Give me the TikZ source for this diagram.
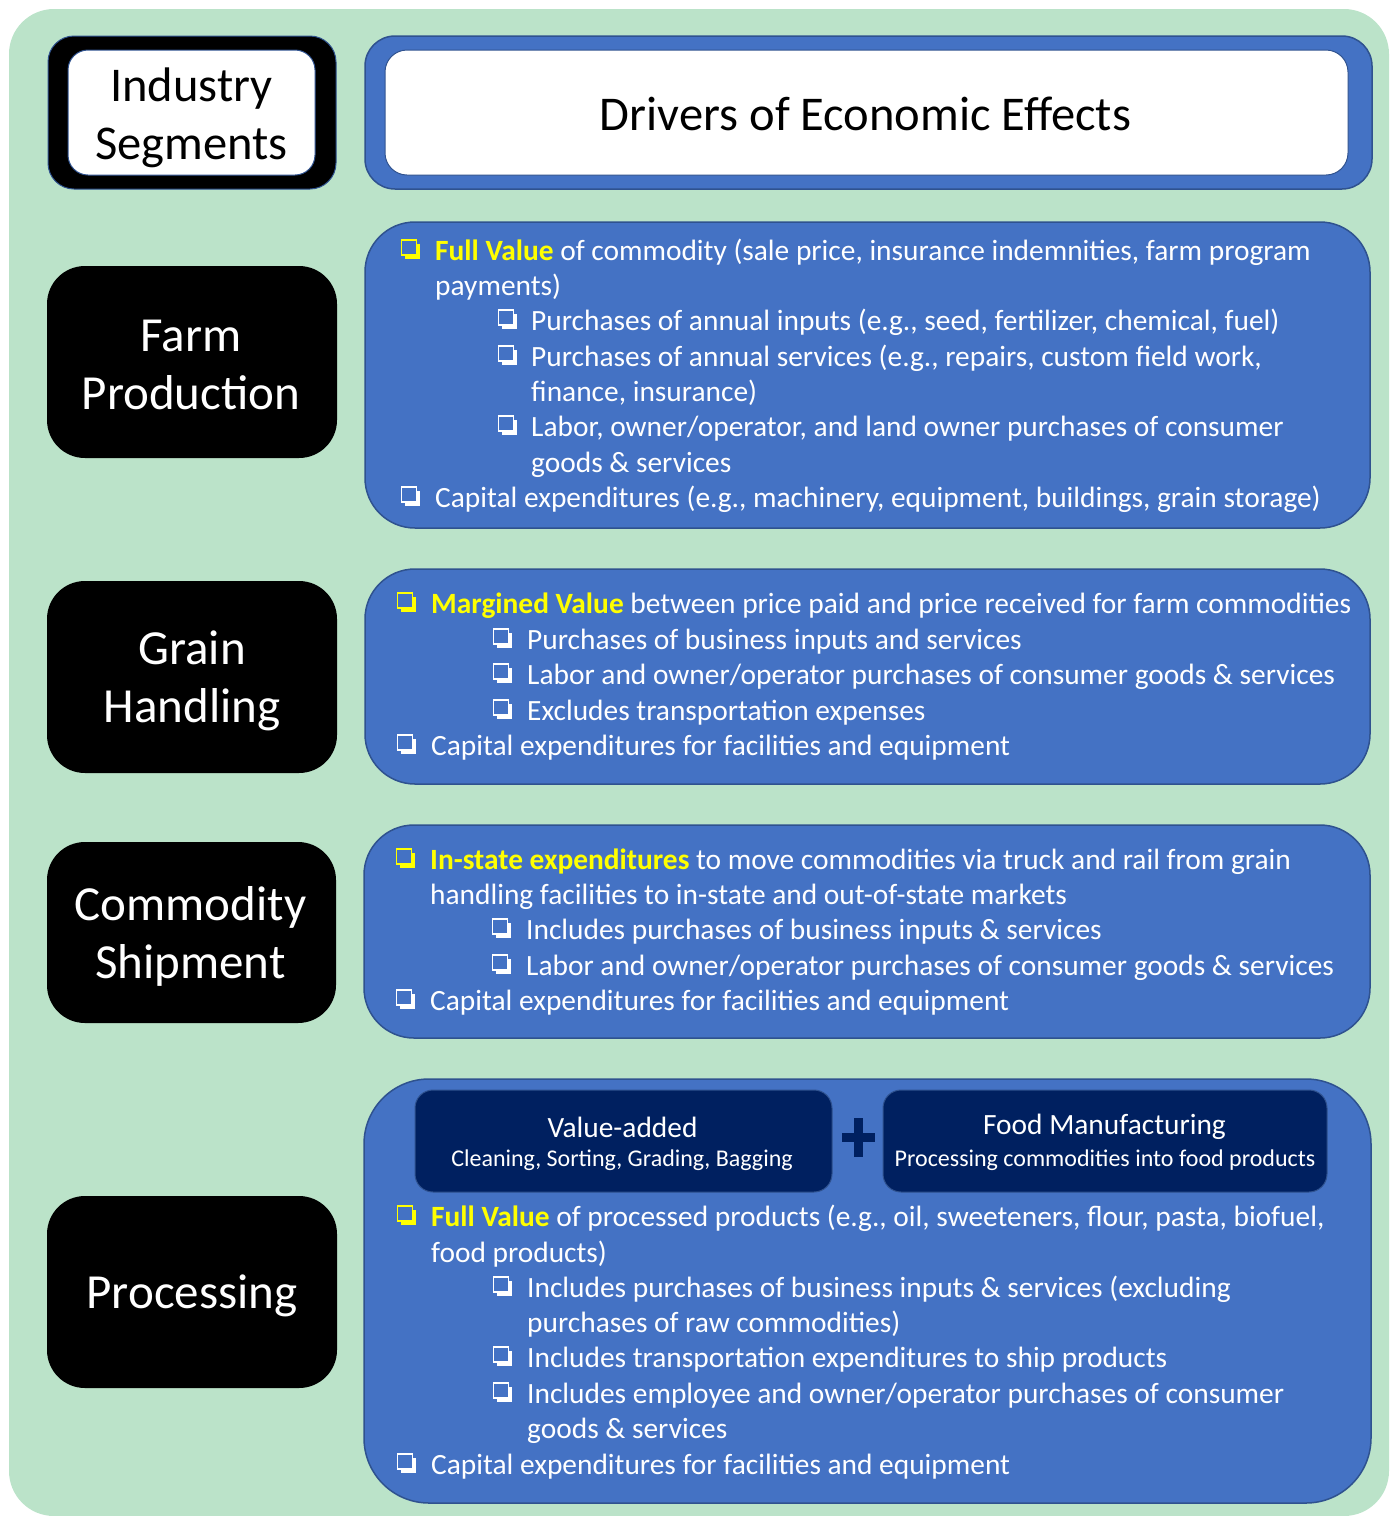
\documentclass[tikz,border=0pt]{standalone}
\usepackage{fontspec}
\usetikzlibrary{shadows}
\setmainfont{Carlito}
\definecolor{bggreen}{RGB}{187,227,201}
\definecolor{pblue}{RGB}{68,114,196}
\definecolor{pblueline}{RGB}{47,82,143}
\definecolor{navy}{RGB}{0,32,96}
\definecolor{hyell}{RGB}{255,255,0}
\newcommand\hl[1]{{\bfseries\color{hyell}#1}}
\begin{document}
\begin{tikzpicture}[x=1pt,y=-1pt,
  segbox/.style={fill=black, rounded corners=38pt, minimum width=290pt},
  segtxt/.style={text=white, align=center, font=\fontsize{49}{58}\selectfont},
  drvbox/.style={fill=pblue, draw=pblueline, line width=1.5pt, rounded corners=50pt},
  ln/.style={anchor=base west, inner sep=0pt, text=white, font=\fontsize{29.4}{35}\selectfont},
  cbw/.style={anchor=south west, xshift=-1.5pt, yshift=4.5pt, draw=white, fill=pblue, line width=1.6pt, minimum size=15pt, inner sep=0pt,
     drop shadow={shadow xshift=4pt, shadow yshift=-4pt, fill=white, opacity=1}},
  cby/.style={cbw, draw=hyell, drop shadow={shadow xshift=4pt, shadow yshift=-4pt, fill=hyell, opacity=1}},
  subbox/.style={fill=navy, draw=pblueline, line width=1pt, rounded corners=18pt},
  subtitle/.style={text=white, font=\fontsize{29.4}{34}\selectfont},
  subsub/.style={text=white, font=\fontsize{24}{28}\selectfont}
]
\useasboundingbox (0,0) rectangle (1390,1516);
\fill[bggreen, rounded corners=45pt] (9,9) rectangle (1389,1516);

% header row
\node[fill=black, draw=pblueline, line width=1pt, rounded corners=26pt, minimum width=288pt, minimum height=153pt] (isout) at (192,112.5) {};
\node[fill=white, draw=pblueline, line width=1pt, rounded corners=20pt, minimum width=247pt, minimum height=125pt] (is) at (191.5,112.5) {};
\node[align=center, font=\fontsize{48.5}{58}\selectfont] (ist) at (191.5,117.5) {Industry\\Segments};
\node[fill=pblue, draw=pblueline, line width=1.5pt, rounded corners=30pt, minimum width=1007pt, minimum height=153pt] (drvout) at (868.5,112.5) {};
\node[fill=white, draw=pblueline, line width=1pt, rounded corners=22pt, minimum width=963pt, minimum height=125pt] (drv) at (866.5,112.5) {};
\node[font=\fontsize{48.5}{58}\selectfont] (drvt) at (865.5,113.5) {Drivers of Economic Effects};

% segment boxes
\node[segbox, minimum height=192pt] (farm) at (192,362) {};
\node[segtxt] (farmt) at (191,364.5) {Farm\\Production};
\node[segbox, minimum height=192pt] (grain) at (192,677) {};
\node[segtxt] (graint) at (192,681) {Grain\\Handling};
\node[segbox, minimum height=181pt, minimum width=289pt] (comm) at (191.5,932.5) {};
\node[segtxt] (commt) at (190.5,936.5) {Commodity\\Shipment};
\node[segbox, minimum height=192pt] (proc) at (192,1292) {};
\node[segtxt] (proct) at (192,1296) {Processing};

% driver boxes
\node[drvbox, minimum width=1005pt, minimum height=306pt] (farmd) at (867.5,375) {};
\node[drvbox, minimum width=1005pt, minimum height=215pt] (graind) at (867.5,676.5) {};
\node[drvbox, minimum width=1006pt, minimum height=213pt] (commd) at (867,931.5) {};
\node[drvbox, rounded corners=65pt, minimum width=1007pt, minimum height=424pt] (procd) at (867.5,1291) {};

% farm text
\node[cby] (fc1) at (402,260) {};
\node[ln] (f1) at (435,260) {\hl{Full Value} of commodity (sale price, insurance indemnities, farm program};
\node[ln] (f2) at (435,295.5) {payments)};
\node[cbw] (fc3) at (499,330.5) {};
\node[ln] (f3) at (531,330.5) {Purchases of annual inputs (e.g., seed, fertilizer, chemical, fuel)};
\node[cbw] (fc4) at (499,366) {};
\node[ln] (f4) at (531,366) {Purchases of annual services (e.g., repairs, custom field work,};
\node[ln] (f5) at (531,401) {finance, insurance)};
\node[cbw] (fc6) at (499,436.5) {};
\node[ln] (f6) at (531,436.5) {Labor, owner/operator, and land owner purchases of consumer};
\node[ln] (f7) at (531,472) {goods \& services};
\node[cbw] (fc8) at (402,507) {};
\node[ln] (f8) at (435,507) {Capital expenditures (e.g., machinery, equipment, buildings, grain storage)};

% grain text
\node[cby] (gc1) at (398,613) {};
\node[ln] (g1) at (431,613) {\hl{Margined Value} between price paid and price received for farm commodities};
\node[cbw] (gc2) at (494,649) {};
\node[ln] (g2) at (527,649) {Purchases of business inputs and services};
\node[cbw] (gc3) at (494,684) {};
\node[ln] (g3) at (527,684) {Labor and owner/operator purchases of consumer goods \& services};
\node[cbw] (gc4) at (494,720) {};
\node[ln] (g4) at (527,720) {Excludes transportation expenses};
\node[cbw] (gc5) at (398,755) {};
\node[ln] (g5) at (431,755) {Capital expenditures for facilities and equipment};

% commodity text
\node[cby] (cc1) at (397,869) {};
\node[ln] (c1) at (430,869) {\hl{In-state expenditures} to move commodities via truck and rail from grain};
\node[ln] (c2) at (430,904) {handling facilities to in-state and out-of-state markets};
\node[cbw] (cc3) at (493,939) {};
\node[ln] (c3) at (526,939) {Includes purchases of business inputs \& services};
\node[cbw] (cc4) at (493,975) {};
\node[ln] (c4) at (526,975) {Labor and owner/operator purchases of consumer goods \& services};
\node[cbw] (cc5) at (397,1010) {};
\node[ln] (c5) at (430,1010) {Capital expenditures for facilities and equipment};

% processing sub boxes
\node[subbox, minimum width=417pt, minimum height=102pt] (va) at (623.5,1141) {};
\node[subtitle] (vat) at (622.5,1127) {Value-added};
\node[subsub] (vas) at (622,1160) {Cleaning, Sorting, Grading, Bagging};
\node[subbox, minimum width=444pt, minimum height=102pt] (fm) at (1105,1141) {};
\node[subtitle] (fmt) at (1104.5,1127) {Food Manufacturing};
\node[subsub] (fms) at (1105,1160) {Processing commodities into food products};
\fill[navy] (842,1133) rectangle (875,1142);
\fill[navy] (854,1118) rectangle (863,1157);

% processing text
\node[cby] (pc1) at (398,1226) {};
\node[ln] (p1) at (431,1226) {\hl{Full Value} of processed products (e.g., oil, sweeteners, flour, pasta, biofuel,};
\node[ln] (p2) at (431,1262) {food products)};
\node[cbw] (pc3) at (494,1297) {};
\node[ln] (p3) at (527,1297) {Includes purchases of business inputs \& services (excluding};
\node[ln] (p4) at (527,1332) {purchases of raw commodities)};
\node[cbw] (pc5) at (494,1367) {};
\node[ln] (p5) at (527,1367) {Includes transportation expenditures to ship products};
\node[cbw] (pc6) at (494,1403) {};
\node[ln] (p6) at (527,1403) {Includes employee and owner/operator purchases of consumer};
\node[ln] (p7) at (527,1438) {goods \& services};
\node[cbw] (pc8) at (398,1474) {};
\node[ln] (p8) at (431,1474) {Capital expenditures for facilities and equipment};
\end{tikzpicture}
\end{document}
